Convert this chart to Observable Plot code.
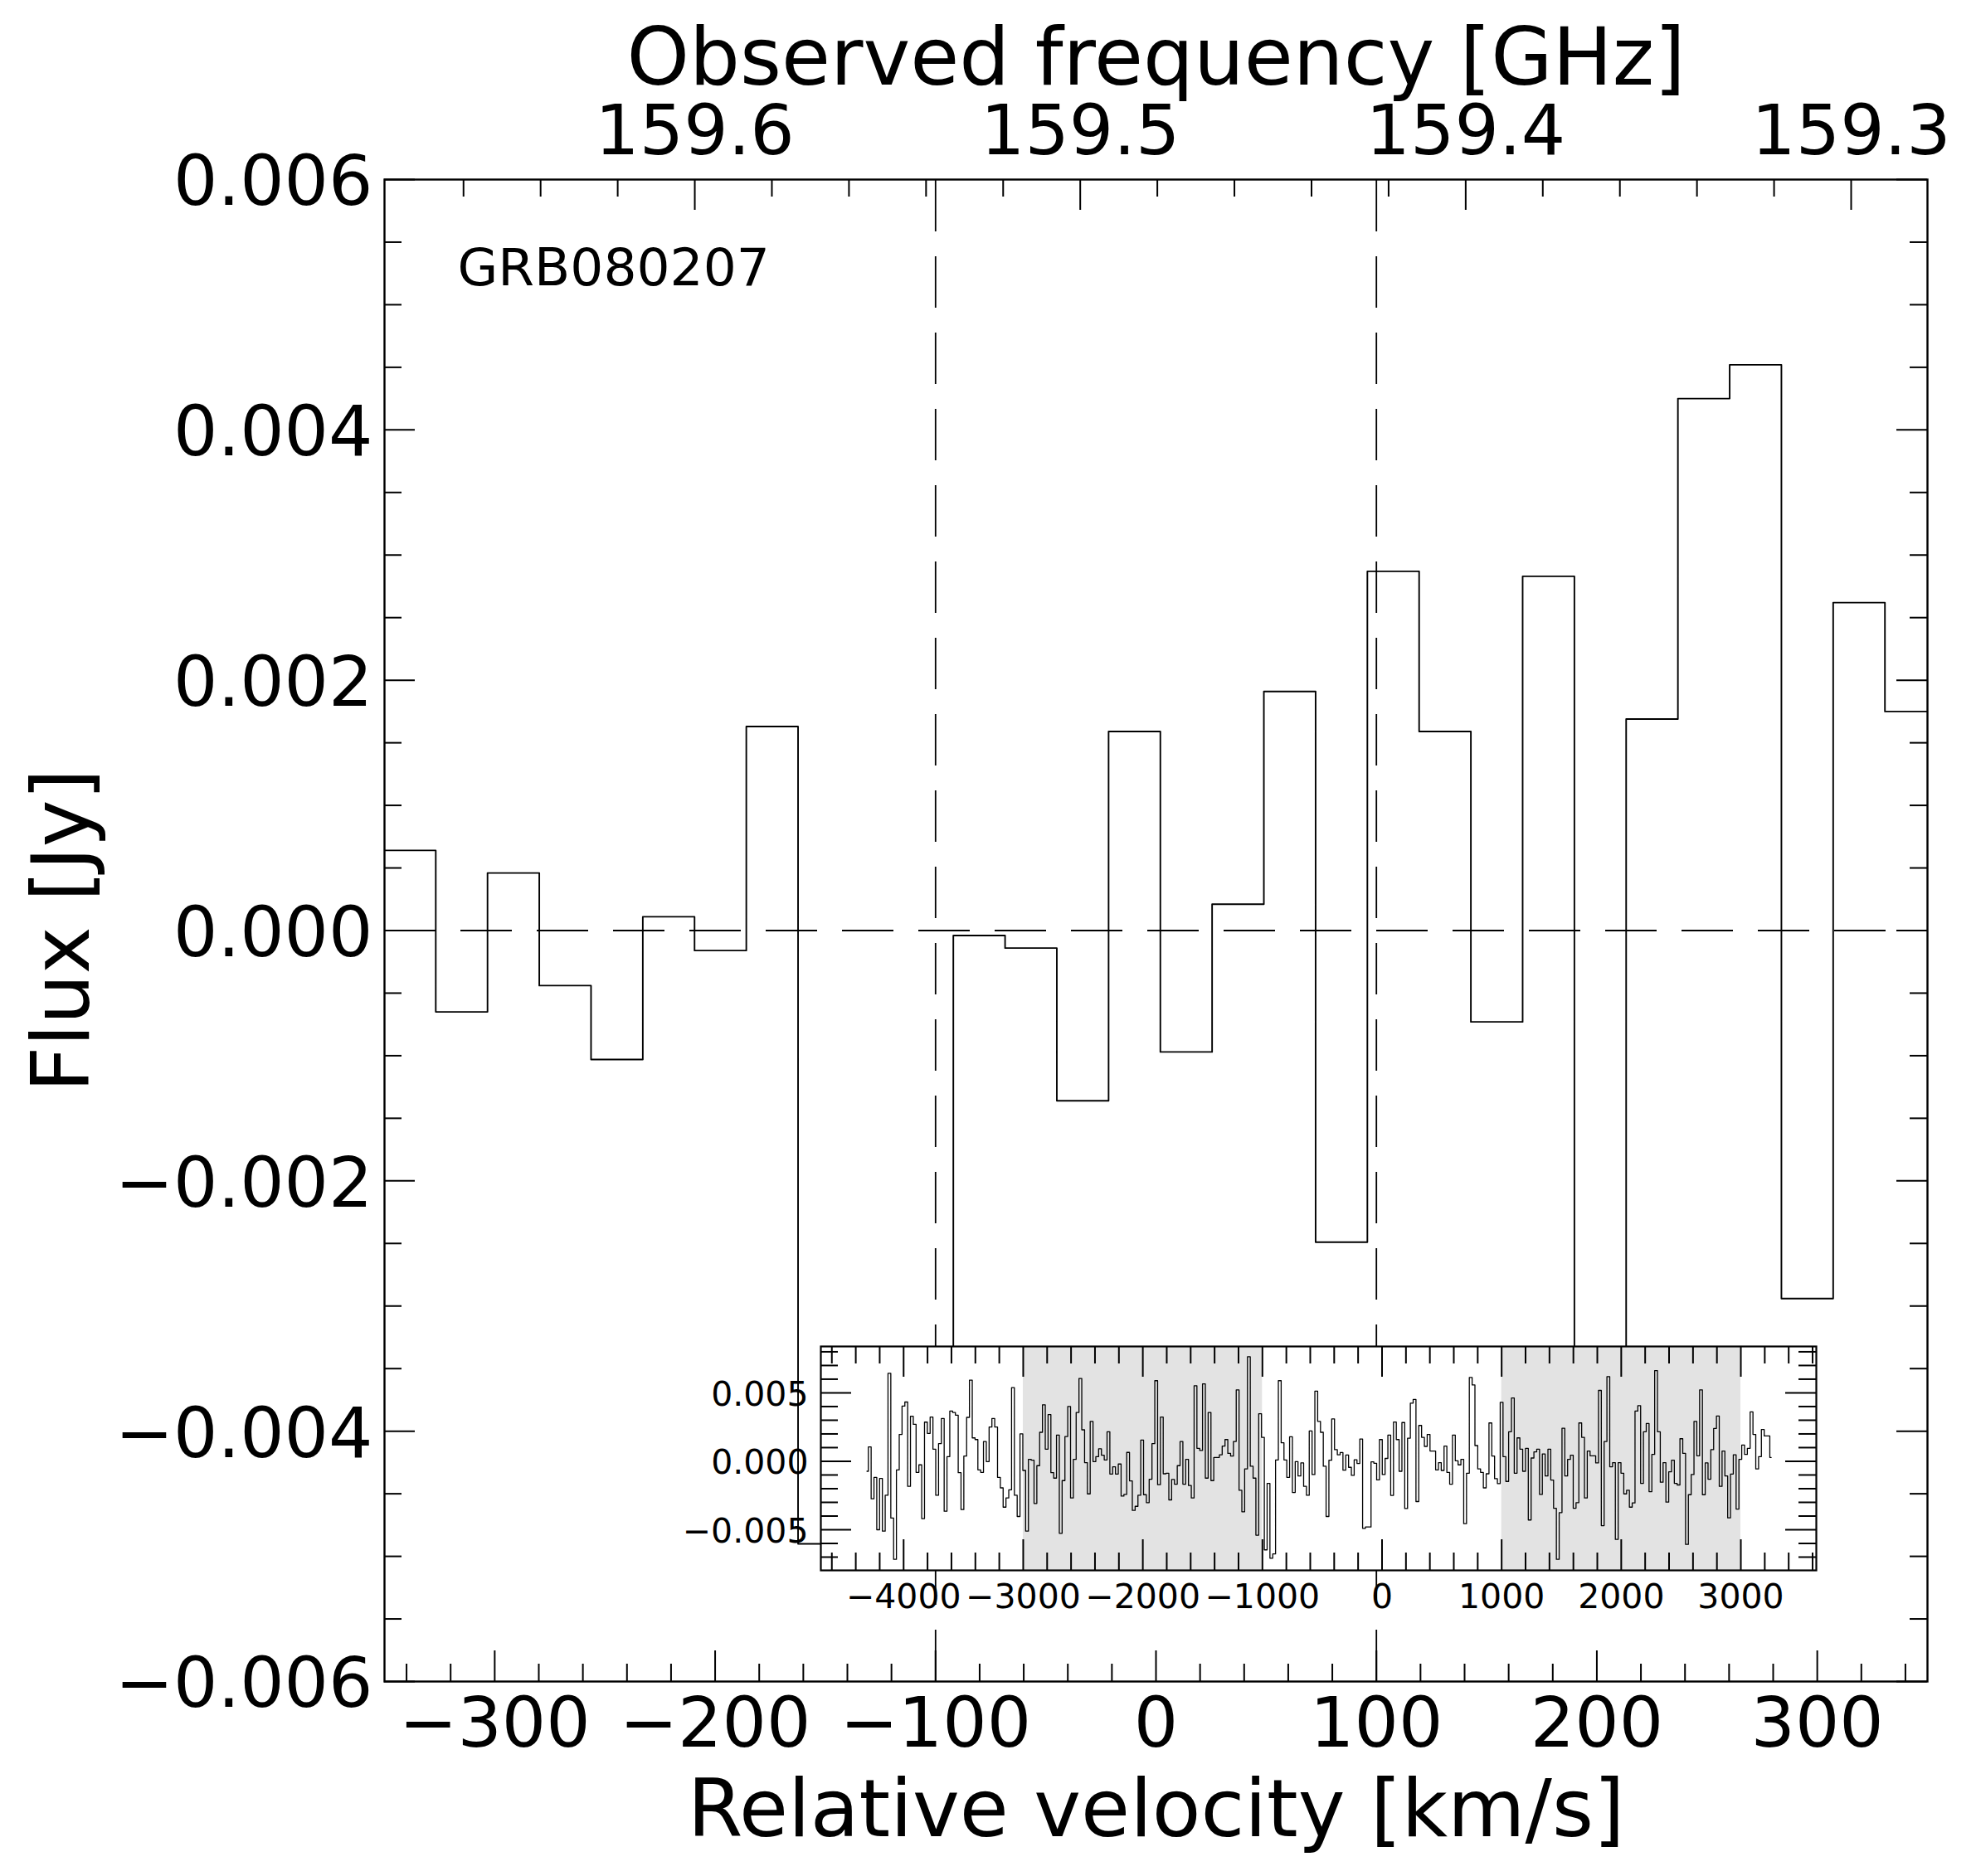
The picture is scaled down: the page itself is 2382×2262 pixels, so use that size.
<!DOCTYPE html>
<html>
<head>
<meta charset="utf-8">
<script src="https://cdn.jsdelivr.net/npm/d3@7"></script>
<script src="https://cdn.jsdelivr.net/npm/@observablehq/plot@0.6"></script>
<style>
  html, body { margin: 0; padding: 0; background: #fff; overflow: hidden; }
  #wrap { position: relative; width: 2382px; height: 2262px; }
  #main { position: absolute; left: 0; top: 0; }
  #inset { position: absolute; left: 880px; top: 1600px; width: 1320px; height: 360px; }
</style>
</head>
<body>
<div id="wrap"><div id="main"></div><div id="inset"></div></div>
<script>
// ---------------- data ----------------
const sourceName = "GRB080207";
const channelStartKms = -4306.6;   // velocity of first channel
const channelWidthKms = 23.48;     // channel spacing
// flux density per channel, in mJy
const fluxMilliJy = [
  -0.73, 1.05, -2.74, -1.17, -5.00, -1.25, -5.10, -2.48, 6.43, -4.15,
  -7.16, -0.63, 1.96, 4.03, 4.33, -1.83, 3.29, 2.70, -0.81, -0.26,
  -4.19, 2.86, 2.04, 3.23, 0.89, -2.48, 1.29, 3.13, -3.65, 0.34,
  3.67, 3.57, 3.37, -0.83, -3.53, 0.38, 3.21, 5.93, 1.71, 1.59,
  -0.63, -0.81, 1.45, -0.02, 2.50, 3.13, 2.50, -1.17, -1.94, -3.35,
  -2.68, -2.08, 5.38, -2.48, -4.03, 2.00, -0.67, -5.10, 0.14, 0.08,
  -3.08, -0.32, 2.12, 4.13, 0.89, 3.41, -0.83, -1.23, 1.92, -5.26,
  -1.41, 1.81, 4.01, -2.68, 0.14, 3.57, 6.05, 2.30, -0.10, -2.38,
  2.92, -0.02, 0.34, 0.91, 0.44, 0.10, 2.16, -0.93, -0.40, -0.93,
  -0.20, -2.54, -2.42, 0.65, -1.43, -3.59, -3.29, -2.48, 1.55, -2.44,
  -3.02, -1.31, 1.29, 5.89, -1.71, 3.23, -0.91, -0.87, -2.82, -1.33,
  -1.67, -0.32, 1.45, -1.67, 0.14, -1.77, -2.68, 5.52, 0.95, 0.79,
  5.65, -1.23, 3.57, -1.41, 0.28, 0.28, 0.48, 1.11, 1.59, 0.58,
  0.38, 1.45, 5.22, -2.12, -3.69, -0.56, 7.64, -0.36, -1.23, -5.40,
  3.47, 1.75, -6.47, -1.61, -7.08, -6.77, 0.10, 5.89, 1.35, 0.10,
  -1.17, 1.79, -2.28, -0.02, -1.07, -0.12, -1.83, -2.48, 2.22, -0.97,
  5.12, 2.92, 2.12, -0.36, -4.03, 0.08, 3.10, 0.85, 0.48, 0.64,
  -0.65, 0.46, -0.44, -1.03, 0.11, -0.16, 1.63, -4.90, -4.80, -4.80,
  -0.04, -0.14, -1.36, 1.59, -0.97, 0.21, 1.91, -2.49, 2.87, 1.59,
  -0.73, 2.83, -3.45, 1.69, 4.25, 4.52, -2.94, 2.62, 1.75, 1.09,
  1.96, 0.75, 0.75, -0.63, -0.10, -0.67, 1.11, -0.81, -1.67, 1.92,
  0.04, -0.26, 0.14, -4.56, -0.87, 6.13, 5.58, 1.15, -0.56, -0.81,
  -1.94, -0.91, 2.80, 0.38, -1.27, -1.63, 4.31, 0.34, -1.47, 2.16,
  4.62, -0.87, 1.71, 0.89, -0.73, 0.95, -4.29, 0.24, 0.69, 0.89,
  -2.42, 0.54, -1.07, 0.89, -1.37, -3.43, -7.16, -3.75, 2.42, -1.07,
  0.14, 0.44, -3.43, -3.02, 2.80, 1.75, -2.68, 0.75, 0.40, 0.40,
  -0.12, 5.18, -4.70, 1.45, 6.19, -0.40, -0.10, -5.71, -0.10, -0.87,
  -2.38, -2.12, -3.35, -3.04, 3.67, 4.07, -1.61, 2.16, 2.76, -2.22,
  0.50, 6.63, 2.16, -1.53, -0.10, -2.98, -0.77, 0.08, -1.61, -1.73,
  1.65, 0.58, -6.07, -2.44, -0.97, 2.92, 0.40, 5.22, -2.44, -0.12,
  -1.31, 0.85, 2.40, 3.31, -1.83, 0.75, -1.07, -4.13, -0.93, 0.48,
  -3.49, 0.14, 1.19, 0.50, 0.95, 3.61, 1.96, -0.56, 0.34, 2.32,
  1.85, 1.85, 0.28
];
const velocityDomain = [-350, 350];
const fluxDomain = [-0.006, 0.006];
const velocityTicks = [-300, -200, -100, 0, 100, 200, 300];
const fluxTicks = [-0.006, -0.004, -0.002, 0, 0.002, 0.004, 0.006];
const freqTicksGHz = [159.6, 159.5, 159.4, 159.3];
const freqAtVelocityEdgesGHz = [159.6805, 159.2802];
const markerVelocities = [-100, 100];
const zeroLevel = [0];
const insetVelocityDomain = [-4692, 3631];
const insetFluxDomain = [-0.00797, 0.00839];
const insetVelocityTicks = [-4000, -3000, -2000, -1000, 0, 1000, 2000, 3000];
const insetFluxTicks = [-0.005, 0, 0.005];
const shadedRanges = [[-3000, -1000], [1000, 3000]];

// ---------------- derived ----------------
const spectrum = fluxMilliJy.map((f, i) => ({v: channelStartKms + i * channelWidthKms, flux: f / 1000}));
const minus = "\u2212";
const fmtInt = d => (d < 0 ? minus : "") + Math.abs(d);
const fmtFlux = d => (d < 0 ? minus : "") + Math.abs(d).toFixed(3);
const fToV = d3.scaleLinear().domain(freqAtVelocityEdgesGHz).range(velocityDomain);
const near = (a, arr) => arr.some(b => Math.abs(a - b) < 1e-9);
const xMinor = d3.range(-340, 341, 20).filter(d => !near(d, velocityTicks));
const yMinor = d3.range(-11, 12).map(i => i * 0.0005).filter(d => !near(d, fluxTicks));
const fMinor = d3.range(0, 19).map(i => 159.30 + i * 0.02).filter(d => !freqTicksGHz.some(t => Math.abs(t - d) < 1e-6));

const FONT = "DejaVu Sans";
const W = 2382, H = 2262, mL = 463, mR = 59, mT = 216, mB = 235;
const pW = W - mL - mR, pH = H - mT - mB;
const MAJ = 37, MIN = 21, TW = 2;
const TITLE = 96;

const main = Plot.plot({
  width: W, height: H,
  marginLeft: mL, marginRight: mR, marginTop: mT, marginBottom: mB,
  x: {domain: velocityDomain, axis: null},
  y: {domain: fluxDomain, axis: null},
  style: {background: "white", fontFamily: FONT, overflow: "visible", maxWidth: "none"},
  marks: [
    Plot.line(spectrum, {x: "v", y: "flux", curve: "step", stroke: "black", strokeWidth: 1.9, clip: true}),
    Plot.ruleY(zeroLevel, {y: d => d, x1: velocityDomain[0], x2: velocityDomain[1], stroke: "black", strokeWidth: 1.8, strokeDasharray: "62,30"}),
    Plot.ruleX(markerVelocities, {x: d => d, y1: fluxDomain[0], y2: fluxDomain[1], stroke: "black", strokeWidth: 1.8, strokeDasharray: "62,30"}),
    // bottom ticks
    Plot.ruleX(velocityTicks, {x: d => d, insetTop: pH - MAJ, stroke: "black", strokeWidth: TW}),
    Plot.ruleX(xMinor, {x: d => d, insetTop: pH - MIN, stroke: "black", strokeWidth: TW}),
    // top (frequency) ticks
    Plot.ruleX(freqTicksGHz, {x: d => fToV(d), insetBottom: pH - MAJ, stroke: "black", strokeWidth: TW}),
    Plot.ruleX(fMinor, {x: d => fToV(d), insetBottom: pH - MIN, stroke: "black", strokeWidth: TW}),
    // left / right ticks
    Plot.ruleY(fluxTicks, {y: d => d, insetRight: pW - MAJ, stroke: "black", strokeWidth: TW}),
    Plot.ruleY(yMinor, {y: d => d, insetRight: pW - MIN, stroke: "black", strokeWidth: TW}),
    Plot.ruleY(fluxTicks, {y: d => d, insetLeft: pW - MAJ, stroke: "black", strokeWidth: TW}),
    Plot.ruleY(yMinor, {y: d => d, insetLeft: pW - MIN, stroke: "black", strokeWidth: TW}),
    Plot.frame({stroke: "black", strokeWidth: 2.4}),
    // tick labels
    Plot.text(velocityTicks, {x: d => d, text: fmtInt, frameAnchor: "bottom", lineAnchor: "bottom", dy: 78, fontSize: 84, fontFamily: FONT, fill: "black"}),
    Plot.text(fluxTicks, {y: d => d, text: fmtFlux, frameAnchor: "left", textAnchor: "end", lineAnchor: "middle", dx: -14, dy: 4, fontSize: 84, fontFamily: FONT, fill: "black"}),
    Plot.text(freqTicksGHz, {x: d => fToV(d), text: d => d.toFixed(1), frameAnchor: "top", lineAnchor: "bottom", dy: -31, fontSize: 84, fontFamily: FONT, fill: "black"}),
    // axis titles
    Plot.text(["Relative velocity [km/s]"], {text: d => d, frameAnchor: "bottom", lineAnchor: "bottom", dy: 186, fontSize: TITLE, fontFamily: FONT, fill: "black"}),
    Plot.text(["Observed frequency [GHz]"], {text: d => d, frameAnchor: "top", lineAnchor: "bottom", dy: -115, fontSize: TITLE, fontFamily: FONT, fill: "black"}),
    Plot.text(["Flux [Jy]"], {text: d => d, frameAnchor: "left", rotate: -90, textAnchor: "middle", lineAnchor: "bottom", dx: -357, fontSize: TITLE, fontFamily: FONT, fill: "black"}),
    Plot.text([sourceName], {text: d => d, frameAnchor: "top-left", textAnchor: "start", lineAnchor: "bottom", dx: 88, dy: 127, fontSize: 63, fontFamily: FONT, fill: "black"})
  ]
});
document.getElementById("main").appendChild(main);

// ---------------- inset ----------------
const iW = 1320, iH = 360, iL = 109, iR = 11, iT = 23, iB = 67;
const ipW = iW - iL - iR, ipH = iH - iT - iB;
const ixMinor = d3.range(-4600, 3601, 200).filter(d => !near(d, insetVelocityTicks));
const iyMinor = d3.range(-7, 9).map(i => i * 0.001).filter(d => !insetFluxTicks.some(t => Math.abs(t - d) < 1e-9));

const inset = Plot.plot({
  width: iW, height: iH,
  marginLeft: iL, marginRight: iR, marginTop: iT, marginBottom: iB,
  x: {domain: insetVelocityDomain, axis: null},
  y: {domain: insetFluxDomain, axis: null},
  style: {background: "none", fontFamily: FONT, overflow: "visible", maxWidth: "none"},
  marks: [
    Plot.frame({fill: "white", stroke: "none"}),
    Plot.rect(shadedRanges, {x1: d => d[0], x2: d => d[1], fill: "#e3e3e3"}),
    Plot.line(spectrum, {x: "v", y: "flux", curve: "step", stroke: "black", strokeWidth: 1.3, clip: true}),
    Plot.ruleX(insetVelocityTicks, {x: d => d, insetTop: ipH - MAJ, stroke: "black", strokeWidth: TW}),
    Plot.ruleX(ixMinor, {x: d => d, insetTop: ipH - MIN, stroke: "black", strokeWidth: TW}),
    Plot.ruleX(insetVelocityTicks, {x: d => d, insetBottom: ipH - MAJ, stroke: "black", strokeWidth: TW}),
    Plot.ruleX(ixMinor, {x: d => d, insetBottom: ipH - MIN, stroke: "black", strokeWidth: TW}),
    Plot.ruleY(insetFluxTicks, {y: d => d, insetRight: ipW - MAJ, stroke: "black", strokeWidth: TW}),
    Plot.ruleY(iyMinor, {y: d => d, insetRight: ipW - MIN, stroke: "black", strokeWidth: TW}),
    Plot.ruleY(insetFluxTicks, {y: d => d, insetLeft: ipW - MAJ, stroke: "black", strokeWidth: TW}),
    Plot.ruleY(iyMinor, {y: d => d, insetLeft: ipW - MIN, stroke: "black", strokeWidth: TW}),
    Plot.frame({stroke: "black", strokeWidth: 2.2}),
    Plot.text(insetVelocityTicks, {x: d => d, text: fmtInt, frameAnchor: "bottom", lineAnchor: "bottom", dy: 45, fontSize: 41, fontFamily: FONT, fill: "black"}),
    Plot.text(insetFluxTicks, {y: d => d, text: fmtFlux, frameAnchor: "left", textAnchor: "end", lineAnchor: "middle", dx: -15, dy: 2, fontSize: 41, fontFamily: FONT, fill: "black"})
  ]
});
document.getElementById("inset").appendChild(inset);
</script>
</body>
</html>
